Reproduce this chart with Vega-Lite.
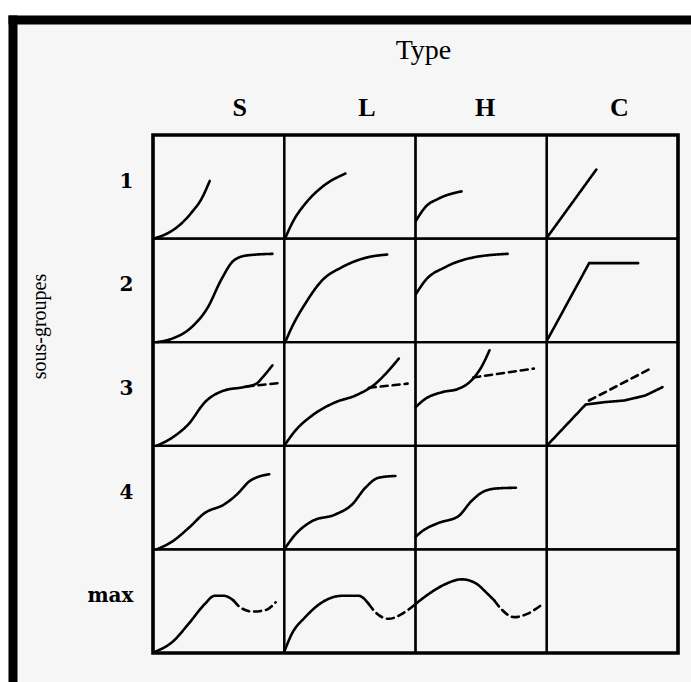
{
  "$schema": "https://vega.github.io/schema/vega-lite/v6.json",
  "background": "white",
  "autosize": {"type": "none"},
  "padding": {"left": 8, "top": 15, "right": 0, "bottom": 0},
  "width": 683,
  "height": 667,
  "config": {
    "view": {"stroke": null, "fill": "#f6f6f6"}
  },
  "datasets": {
    "cells": [
      {"type": "S", "group": "1"}, {"type": "L", "group": "1"}, {"type": "H", "group": "1"}, {"type": "C", "group": "1"},
      {"type": "S", "group": "2"}, {"type": "L", "group": "2"}, {"type": "H", "group": "2"}, {"type": "C", "group": "2"},
      {"type": "S", "group": "3"}, {"type": "L", "group": "3"}, {"type": "H", "group": "3"}, {"type": "C", "group": "3"},
      {"type": "S", "group": "4"}, {"type": "L", "group": "4"}, {"type": "H", "group": "4"}, {"type": "C", "group": "4"},
      {"type": "S", "group": "max"}, {"type": "L", "group": "max"}, {"type": "H", "group": "max"}, {"type": "C", "group": "max"}
    ],
    "curves": [
      {"type": "S", "group": "1", "curve": "S1", "trace": "solid", "form": "smooth", "x": 2.2, "y": 400.7},
      {"type": "S", "group": "1", "curve": "S1", "trace": "solid", "form": "smooth", "x": 10.1, "y": 404.5},
      {"type": "S", "group": "1", "curve": "S1", "trace": "solid", "form": "smooth", "x": 19.9, "y": 412.6},
      {"type": "S", "group": "1", "curve": "S1", "trace": "solid", "form": "smooth", "x": 29.6, "y": 425.5},
      {"type": "S", "group": "1", "curve": "S1", "trace": "solid", "form": "smooth", "x": 37.0, "y": 438.5},
      {"type": "S", "group": "1", "curve": "S1", "trace": "solid", "form": "smooth", "x": 43.2, "y": 455.6},
      {"type": "L", "group": "1", "curve": "L1", "trace": "solid", "form": "smooth", "x": 100.8, "y": 400.7},
      {"type": "L", "group": "1", "curve": "L1", "trace": "solid", "form": "smooth", "x": 107.1, "y": 417.5},
      {"type": "L", "group": "1", "curve": "L1", "trace": "solid", "form": "smooth", "x": 116.0, "y": 433.7},
      {"type": "L", "group": "1", "curve": "L1", "trace": "solid", "form": "smooth", "x": 128.8, "y": 449.8},
      {"type": "L", "group": "1", "curve": "L1", "trace": "solid", "form": "smooth", "x": 146.6, "y": 462.8},
      {"type": "H", "group": "1", "curve": "H1", "trace": "solid", "form": "smooth", "x": 200.5, "y": 417.5},
      {"type": "H", "group": "1", "curve": "H1", "trace": "solid", "form": "smooth", "x": 207.5, "y": 430.4},
      {"type": "H", "group": "1", "curve": "H1", "trace": "solid", "form": "smooth", "x": 217.5, "y": 438.5},
      {"type": "H", "group": "1", "curve": "H1", "trace": "solid", "form": "smooth", "x": 235.1, "y": 445.6},
      {"type": "C", "group": "1", "curve": "C1", "trace": "solid", "form": "straight", "x": 300.0, "y": 400.7},
      {"type": "C", "group": "1", "curve": "C1", "trace": "solid", "form": "straight", "x": 337.8, "y": 466.7},

      {"type": "S", "group": "2", "curve": "S2", "trace": "solid", "form": "smooth", "x": 2.7, "y": 300.0},
      {"type": "S", "group": "2", "curve": "S2", "trace": "solid", "form": "smooth", "x": 14.9, "y": 303.6},
      {"type": "S", "group": "2", "curve": "S2", "trace": "solid", "form": "smooth", "x": 29.6, "y": 314.7},
      {"type": "S", "group": "2", "curve": "S2", "trace": "solid", "form": "smooth", "x": 41.9, "y": 333.9},
      {"type": "S", "group": "2", "curve": "S2", "trace": "solid", "form": "smooth", "x": 51.7, "y": 359.6},
      {"type": "S", "group": "2", "curve": "S2", "trace": "solid", "form": "smooth", "x": 61.5, "y": 378.8},
      {"type": "S", "group": "2", "curve": "S2", "trace": "solid", "form": "smooth", "x": 71.3, "y": 383.7},
      {"type": "S", "group": "2", "curve": "S2", "trace": "solid", "form": "smooth", "x": 91.0, "y": 385.3},
      {"type": "L", "group": "2", "curve": "L2", "trace": "solid", "form": "smooth", "x": 100.8, "y": 300.3},
      {"type": "L", "group": "2", "curve": "L2", "trace": "solid", "form": "smooth", "x": 105.9, "y": 314.7},
      {"type": "L", "group": "2", "curve": "L2", "trace": "solid", "form": "smooth", "x": 116.0, "y": 337.2},
      {"type": "L", "group": "2", "curve": "L2", "trace": "solid", "form": "smooth", "x": 128.8, "y": 359.6},
      {"type": "L", "group": "2", "curve": "L2", "trace": "solid", "form": "smooth", "x": 144.0, "y": 372.4},
      {"type": "L", "group": "2", "curve": "L2", "trace": "solid", "form": "smooth", "x": 161.8, "y": 381.4},
      {"type": "L", "group": "2", "curve": "L2", "trace": "solid", "form": "smooth", "x": 178.4, "y": 384.6},
      {"type": "H", "group": "2", "curve": "H2", "trace": "solid", "form": "smooth", "x": 200.5, "y": 346.8},
      {"type": "H", "group": "2", "curve": "H2", "trace": "solid", "form": "smooth", "x": 207.5, "y": 359.6},
      {"type": "H", "group": "2", "curve": "H2", "trace": "solid", "form": "smooth", "x": 222.6, "y": 372.4},
      {"type": "H", "group": "2", "curve": "H2", "trace": "solid", "form": "smooth", "x": 242.6, "y": 381.4},
      {"type": "H", "group": "2", "curve": "H2", "trace": "solid", "form": "smooth", "x": 270.2, "y": 385.3},
      {"type": "C", "group": "2", "curve": "C2", "trace": "solid", "form": "straight", "x": 300.3, "y": 301.9},
      {"type": "C", "group": "2", "curve": "C2", "trace": "solid", "form": "straight", "x": 332.3, "y": 376.3},
      {"type": "C", "group": "2", "curve": "C2", "trace": "solid", "form": "straight", "x": 369.6, "y": 376.3},

      {"type": "S", "group": "3", "curve": "S3", "trace": "solid", "form": "smooth", "x": 2.7, "y": 200.0},
      {"type": "S", "group": "3", "curve": "S3", "trace": "solid", "form": "smooth", "x": 14.9, "y": 208.1},
      {"type": "S", "group": "3", "curve": "S3", "trace": "solid", "form": "smooth", "x": 27.2, "y": 221.1},
      {"type": "S", "group": "3", "curve": "S3", "trace": "solid", "form": "smooth", "x": 39.5, "y": 242.0},
      {"type": "S", "group": "3", "curve": "S3", "trace": "solid", "form": "smooth", "x": 54.2, "y": 253.4},
      {"type": "S", "group": "3", "curve": "S3", "trace": "solid", "form": "smooth", "x": 68.9, "y": 256.6},
      {"type": "S", "group": "3", "curve": "S3", "trace": "solid", "form": "smooth", "x": 78.7, "y": 259.9},
      {"type": "S", "group": "3", "curve": "S3", "trace": "solid", "form": "smooth", "x": 83.6, "y": 266.3},
      {"type": "S", "group": "3", "curve": "S3", "trace": "solid", "form": "smooth", "x": 91.0, "y": 277.7},
      {"type": "S", "group": "3", "curve": "S3d", "trace": "dashed", "form": "smooth", "x": 71.3, "y": 257.3},
      {"type": "S", "group": "3", "curve": "S3d", "trace": "dashed", "form": "smooth", "x": 95.8, "y": 260.5},
      {"type": "L", "group": "3", "curve": "L3", "trace": "solid", "form": "smooth", "x": 100.0, "y": 200.0},
      {"type": "L", "group": "3", "curve": "L3", "trace": "solid", "form": "smooth", "x": 108.4, "y": 214.6},
      {"type": "L", "group": "3", "curve": "L3", "trace": "solid", "form": "smooth", "x": 121.1, "y": 229.1},
      {"type": "L", "group": "3", "curve": "L3", "trace": "solid", "form": "smooth", "x": 138.9, "y": 242.0},
      {"type": "L", "group": "3", "curve": "L3", "trace": "solid", "form": "smooth", "x": 154.2, "y": 248.5},
      {"type": "L", "group": "3", "curve": "L3", "trace": "solid", "form": "smooth", "x": 169.5, "y": 259.9},
      {"type": "L", "group": "3", "curve": "L3", "trace": "solid", "form": "smooth", "x": 179.6, "y": 272.8},
      {"type": "L", "group": "3", "curve": "L3", "trace": "solid", "form": "smooth", "x": 187.3, "y": 284.2},
      {"type": "L", "group": "3", "curve": "L3d", "trace": "dashed", "form": "smooth", "x": 164.4, "y": 256.0},
      {"type": "L", "group": "3", "curve": "L3d", "trace": "dashed", "form": "smooth", "x": 194.0, "y": 260.0},
      {"type": "H", "group": "3", "curve": "H3", "trace": "solid", "form": "smooth", "x": 200.0, "y": 237.2},
      {"type": "H", "group": "3", "curve": "H3", "trace": "solid", "form": "smooth", "x": 207.5, "y": 245.3},
      {"type": "H", "group": "3", "curve": "H3", "trace": "solid", "form": "smooth", "x": 220.1, "y": 251.7},
      {"type": "H", "group": "3", "curve": "H3", "trace": "solid", "form": "smooth", "x": 232.6, "y": 255.0},
      {"type": "H", "group": "3", "curve": "H3", "trace": "solid", "form": "smooth", "x": 242.6, "y": 263.1},
      {"type": "H", "group": "3", "curve": "H3", "trace": "solid", "form": "smooth", "x": 250.2, "y": 276.0},
      {"type": "H", "group": "3", "curve": "H3", "trace": "solid", "form": "smooth", "x": 256.4, "y": 292.2},
      {"type": "H", "group": "3", "curve": "H3d", "trace": "dashed", "form": "smooth", "x": 244.0, "y": 266.0},
      {"type": "H", "group": "3", "curve": "H3d", "trace": "dashed", "form": "smooth", "x": 290.2, "y": 274.5},
      {"type": "C", "group": "3", "curve": "C3", "trace": "solid", "form": "straight", "x": 300.0, "y": 200.0},
      {"type": "C", "group": "3", "curve": "C3", "trace": "solid", "form": "straight", "x": 329.6, "y": 239.8},
      {"type": "C", "group": "3", "curve": "C3", "trace": "solid", "form": "straight", "x": 343.0, "y": 242.0},
      {"type": "C", "group": "3", "curve": "C3", "trace": "solid", "form": "straight", "x": 359.0, "y": 243.7},
      {"type": "C", "group": "3", "curve": "C3", "trace": "solid", "form": "straight", "x": 375.0, "y": 248.5},
      {"type": "C", "group": "3", "curve": "C3", "trace": "solid", "form": "straight", "x": 388.2, "y": 256.6},
      {"type": "C", "group": "3", "curve": "C3d", "trace": "dashed", "form": "straight", "x": 332.2, "y": 243.7},
      {"type": "C", "group": "3", "curve": "C3d", "trace": "dashed", "form": "straight", "x": 377.6, "y": 273.5},

      {"type": "S", "group": "4", "curve": "S4", "trace": "solid", "form": "smooth", "x": 2.7, "y": 100.0},
      {"type": "S", "group": "4", "curve": "S4", "trace": "solid", "form": "smooth", "x": 14.9, "y": 107.8},
      {"type": "S", "group": "4", "curve": "S4", "trace": "solid", "form": "smooth", "x": 27.2, "y": 120.7},
      {"type": "S", "group": "4", "curve": "S4", "trace": "solid", "form": "smooth", "x": 39.5, "y": 135.2},
      {"type": "S", "group": "4", "curve": "S4", "trace": "solid", "form": "smooth", "x": 54.2, "y": 143.4},
      {"type": "S", "group": "4", "curve": "S4", "trace": "solid", "form": "smooth", "x": 64.0, "y": 153.1},
      {"type": "S", "group": "4", "curve": "S4", "trace": "solid", "form": "smooth", "x": 73.8, "y": 166.0},
      {"type": "S", "group": "4", "curve": "S4", "trace": "solid", "form": "smooth", "x": 88.5, "y": 172.5},
      {"type": "L", "group": "4", "curve": "L4", "trace": "solid", "form": "smooth", "x": 100.0, "y": 100.0},
      {"type": "L", "group": "4", "curve": "L4", "trace": "solid", "form": "smooth", "x": 108.4, "y": 114.3},
      {"type": "L", "group": "4", "curve": "L4", "trace": "solid", "form": "smooth", "x": 121.1, "y": 127.2},
      {"type": "L", "group": "4", "curve": "L4", "trace": "solid", "form": "smooth", "x": 138.9, "y": 133.7},
      {"type": "L", "group": "4", "curve": "L4", "trace": "solid", "form": "smooth", "x": 151.7, "y": 143.4},
      {"type": "L", "group": "4", "curve": "L4", "trace": "solid", "form": "smooth", "x": 161.8, "y": 159.5},
      {"type": "L", "group": "4", "curve": "L4", "trace": "solid", "form": "smooth", "x": 171.9, "y": 169.2},
      {"type": "L", "group": "4", "curve": "L4", "trace": "solid", "form": "smooth", "x": 184.7, "y": 170.9},
      {"type": "H", "group": "4", "curve": "H4", "trace": "solid", "form": "smooth", "x": 200.0, "y": 112.0},
      {"type": "H", "group": "4", "curve": "H4", "trace": "solid", "form": "smooth", "x": 205.0, "y": 117.5},
      {"type": "H", "group": "4", "curve": "H4", "trace": "solid", "form": "smooth", "x": 217.5, "y": 125.5},
      {"type": "H", "group": "4", "curve": "H4", "trace": "solid", "form": "smooth", "x": 232.6, "y": 132.0},
      {"type": "H", "group": "4", "curve": "H4", "trace": "solid", "form": "smooth", "x": 242.6, "y": 146.6},
      {"type": "H", "group": "4", "curve": "H4", "trace": "solid", "form": "smooth", "x": 252.6, "y": 156.3},
      {"type": "H", "group": "4", "curve": "H4", "trace": "solid", "form": "smooth", "x": 262.6, "y": 158.9},
      {"type": "H", "group": "4", "curve": "H4", "trace": "solid", "form": "smooth", "x": 276.5, "y": 159.5},

      {"type": "S", "group": "max", "curve": "S5", "trace": "solid", "form": "smooth", "x": 1.5, "y": 1.2},
      {"type": "S", "group": "max", "curve": "S5", "trace": "solid", "form": "smooth", "x": 14.9, "y": 10.8},
      {"type": "S", "group": "max", "curve": "S5", "trace": "solid", "form": "smooth", "x": 27.2, "y": 28.3},
      {"type": "S", "group": "max", "curve": "S5", "trace": "solid", "form": "smooth", "x": 39.5, "y": 47.3},
      {"type": "S", "group": "max", "curve": "S5", "trace": "solid", "form": "smooth", "x": 46.8, "y": 55.2},
      {"type": "S", "group": "max", "curve": "S5", "trace": "solid", "form": "smooth", "x": 54.2, "y": 55.2},
      {"type": "S", "group": "max", "curve": "S5", "trace": "solid", "form": "smooth", "x": 61.5, "y": 50.5},
      {"type": "S", "group": "max", "curve": "S5d", "trace": "dashed", "form": "smooth", "x": 61.5, "y": 50.5},
      {"type": "S", "group": "max", "curve": "S5d", "trace": "dashed", "form": "smooth", "x": 66.4, "y": 44.1},
      {"type": "S", "group": "max", "curve": "S5d", "trace": "dashed", "form": "smooth", "x": 76.3, "y": 40.0},
      {"type": "S", "group": "max", "curve": "S5d", "trace": "dashed", "form": "smooth", "x": 86.0, "y": 41.6},
      {"type": "S", "group": "max", "curve": "S5d", "trace": "dashed", "form": "smooth", "x": 93.4, "y": 48.9},
      {"type": "L", "group": "max", "curve": "L5", "trace": "solid", "form": "smooth", "x": 100.0, "y": 1.2},
      {"type": "L", "group": "max", "curve": "L5", "trace": "solid", "form": "smooth", "x": 105.9, "y": 18.8},
      {"type": "L", "group": "max", "curve": "L5", "trace": "solid", "form": "smooth", "x": 116.0, "y": 34.6},
      {"type": "L", "group": "max", "curve": "L5", "trace": "solid", "form": "smooth", "x": 128.8, "y": 48.9},
      {"type": "L", "group": "max", "curve": "L5", "trace": "solid", "form": "smooth", "x": 144.0, "y": 55.2},
      {"type": "L", "group": "max", "curve": "L5", "trace": "solid", "form": "smooth", "x": 156.7, "y": 55.2},
      {"type": "L", "group": "max", "curve": "L5", "trace": "solid", "form": "smooth", "x": 164.4, "y": 47.3},
      {"type": "L", "group": "max", "curve": "L5d", "trace": "dashed", "form": "smooth", "x": 164.4, "y": 47.3},
      {"type": "L", "group": "max", "curve": "L5d", "trace": "dashed", "form": "smooth", "x": 169.5, "y": 39.3},
      {"type": "L", "group": "max", "curve": "L5d", "trace": "dashed", "form": "smooth", "x": 179.6, "y": 33.0},
      {"type": "L", "group": "max", "curve": "L5d", "trace": "dashed", "form": "smooth", "x": 189.8, "y": 37.8},
      {"type": "L", "group": "max", "curve": "L5d", "trace": "dashed", "form": "smooth", "x": 200.0, "y": 47.3},
      {"type": "H", "group": "max", "curve": "H5", "trace": "solid", "form": "smooth", "x": 200.0, "y": 47.3},
      {"type": "H", "group": "max", "curve": "H5", "trace": "solid", "form": "smooth", "x": 210.0, "y": 56.9},
      {"type": "H", "group": "max", "curve": "H5", "trace": "solid", "form": "smooth", "x": 222.6, "y": 66.4},
      {"type": "H", "group": "max", "curve": "H5", "trace": "solid", "form": "smooth", "x": 235.1, "y": 71.1},
      {"type": "H", "group": "max", "curve": "H5", "trace": "solid", "form": "smooth", "x": 245.1, "y": 67.9},
      {"type": "H", "group": "max", "curve": "H5", "trace": "solid", "form": "smooth", "x": 255.1, "y": 56.9},
      {"type": "H", "group": "max", "curve": "H5", "trace": "solid", "form": "smooth", "x": 260.2, "y": 50.5},
      {"type": "H", "group": "max", "curve": "H5d", "trace": "dashed", "form": "smooth", "x": 260.2, "y": 50.5},
      {"type": "H", "group": "max", "curve": "H5d", "trace": "dashed", "form": "smooth", "x": 265.2, "y": 42.6},
      {"type": "H", "group": "max", "curve": "H5d", "trace": "dashed", "form": "smooth", "x": 275.2, "y": 34.6},
      {"type": "H", "group": "max", "curve": "H5d", "trace": "dashed", "form": "smooth", "x": 285.2, "y": 37.8},
      {"type": "H", "group": "max", "curve": "H5d", "trace": "dashed", "form": "smooth", "x": 295.3, "y": 45.7}
    ]
  },
  "resolve": {
    "scale": {"x": "independent", "y": "independent"},
    "axis": {"x": "independent", "y": "independent"}
  },
  "layer": [
    {
      "layer": [
        {
          "data": {"name": "cells"},
          "mark": {"type": "rect", "fill": "transparent", "stroke": "black", "strokeWidth": 2.2},
          "encoding": {
            "x": {
              "field": "type", "type": "nominal",
              "scale": {"domain": ["S", "L", "H", "C"], "paddingInner": 0, "paddingOuter": 0.601905, "align": 0.917722},
              "axis": {
                "orient": "top", "offset": -120, "domain": false, "ticks": false, "tickSize": 0, "grid": false,
                "labelAngle": 0, "labelOverlap": false, "labelPadding": 20, "labelBaseline": "alphabetic",
                "labelOffset": {"condition": [{"test": "datum.value === 'S'", "value": 21}, {"test": "datum.value === 'L'", "value": 17}, {"test": "datum.value === 'H'", "value": 4}], "value": 7},
                "labelFont": "Liberation Serif", "labelFontSize": 26, "labelFontWeight": "bold", "labelColor": "black",
                "title": "Type", "titleFont": "Liberation Serif", "titleFontSize": 28, "titleFontWeight": "normal", "titleColor": "black",
                "titleX": 415, "titleY": -77, "titleAlign": "center", "titleBaseline": "alphabetic"
              }
            },
            "y": {
              "field": "group", "type": "nominal",
              "scale": {"domain": ["1", "2", "3", "4", "max"], "paddingInner": 0, "paddingOuter": 0.71911, "align": 0.805369},
              "axis": {
                "orient": "left", "offset": -145, "domain": false, "ticks": false, "tickSize": 0, "grid": false,
                "labelAngle": 0, "labelOverlap": false, "labelPadding": 20, "labelAlign": "right", "labelBaseline": "middle", "labelOffset": -5,
                "labelFont": "DejaVu Serif", "labelFontSize": 20, "labelFontWeight": "bold", "labelColor": "black",
                "title": "sous-groupes", "titleFont": "Liberation Serif", "titleFontSize": 20, "titleFontWeight": "normal", "titleColor": "black",
                "titleAngle": -90, "titleX": -114, "titleY": 311, "titleAlign": "center", "titleBaseline": "middle"
              }
            }
          }
        },
        {
          "data": {"name": "cells"},
          "transform": [{"aggregate": [{"op": "count", "as": "n"}]}],
          "mark": {"type": "rect", "fill": "transparent", "stroke": "black", "strokeWidth": 3.6},
          "encoding": {
            "x": {"datum": "S", "type": "nominal", "bandPosition": 0},
            "x2": {"datum": "C", "bandPosition": 1},
            "y": {"datum": "1", "type": "nominal", "bandPosition": 0},
            "y2": {"datum": "max", "bandPosition": 1}
          }
        }
      ]
    },
    {
      "data": {"name": "curves"},
      "transform": [{"filter": "datum.form === 'smooth'"}],
      "mark": {"type": "line", "interpolate": "monotone", "color": "black", "strokeWidth": 2.6, "strokeCap": "round"},
      "encoding": {
        "x": {
          "field": "x", "type": "quantitative",
          "scale": {"domain": [-110.476, 409.905], "nice": false, "zero": false},
          "axis": {"orient": "top", "offset": -4.5, "domain": true, "domainColor": "black", "domainWidth": 9, "domainCap": "butt", "labels": false, "ticks": false, "grid": false, "title": null}
        },
        "y": {
          "field": "y", "type": "quantitative",
          "scale": {"domain": [-27.992, 615.83], "nice": false, "zero": false},
          "axis": {"orient": "left", "offset": -4.5, "domain": true, "domainColor": "black", "domainWidth": 9, "domainCap": "butt", "labels": false, "ticks": false, "grid": false, "title": null}
        },
        "detail": {"field": "curve"},
        "strokeDash": {"field": "trace", "type": "nominal", "scale": {"domain": ["solid", "dashed"], "range": [[1, 0], [7, 5]]}, "legend": null}
      }
    },
    {
      "data": {"name": "curves"},
      "transform": [{"filter": "datum.form === 'straight'"}],
      "mark": {"type": "line", "interpolate": "linear", "color": "black", "strokeWidth": 2.6, "strokeCap": "round"},
      "encoding": {
        "x": {"field": "x", "type": "quantitative", "scale": {"domain": [-110.476, 409.905], "nice": false, "zero": false}, "axis": null},
        "y": {"field": "y", "type": "quantitative", "scale": {"domain": [-27.992, 615.83], "nice": false, "zero": false}, "axis": null},
        "detail": {"field": "curve"},
        "strokeDash": {"field": "trace", "type": "nominal", "scale": {"domain": ["solid", "dashed"], "range": [[1, 0], [7, 5]]}, "legend": null}
      }
    }
  ]
}
